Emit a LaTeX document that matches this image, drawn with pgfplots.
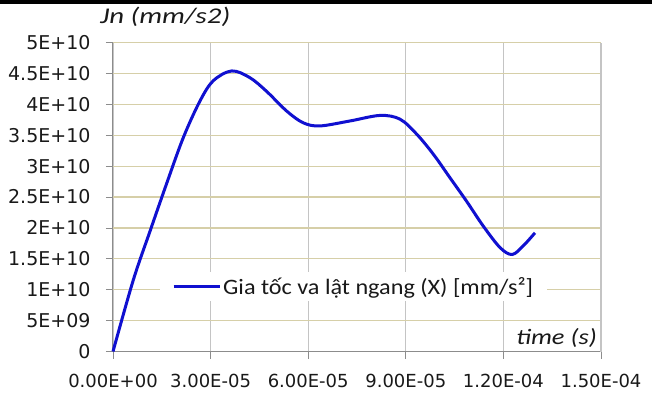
\documentclass[border=0pt]{standalone}
\usepackage{pgfplots}
\pgfplotsset{compat=1.18}
\usepackage{fontspec}
\setmainfont{Carlito}
\newfontfamily\tickfont{DejaVu Sans}
\newfontfamily\labfont[FakeStretch=1.2]{Carlito}
\newfontfamily\jnfont[FakeStretch=1.28]{Carlito}
\newfontfamily\legfont[FakeStretch=1.1]{Carlito}
\definecolor{hgrid}{HTML}{D6CFA8}
\definecolor{vgrid}{HTML}{C4C4C4}
\definecolor{axgray}{HTML}{8C8C8C}
\definecolor{curve}{HTML}{1010D0}
\begin{document}
\begin{tikzpicture}
\path[use as bounding box] (-113pt,-40.5pt) rectangle (539pt,351.5pt);
\fill[black] (-113pt,348pt) rectangle (539pt,351.5pt);
\begin{axis}[
  scale only axis,
  width=488pt, height=309pt,
  xmin=0, xmax=1.5e-4, ymin=0, ymax=5e10,
  scaled ticks=false,
  /pgf/number format/assume math mode=true,
  xtick={0,3e-5,6e-5,9e-5,1.2e-4,1.5e-4},
  xticklabels={0.00E+00,3.00E-05,6.00E-05,9.00E-05,1.20E-04,1.50E-04},
  ytick={0,5e9,1e10,1.5e10,2e10,2.5e10,3e10,3.5e10,4e10,4.5e10,5e10},
  yticklabels={0,5E+09,1E+10,1.5E+10,2E+10,2.5E+10,3E+10,3.5E+10,4E+10,4.5E+10,5E+10},
  tick label style={font=\tickfont\fontsize{19}{21}\selectfont, text=black!90},
  yticklabel style={xshift=-12pt},
  xticklabel style={yshift=-12pt, font=\tickfont\fontsize{18}{20}\selectfont},
  tick align=outside,
  major tick length=7pt,
  tick style={axgray, line width=0.8pt},
  axis line style={axgray, line width=1pt},
  axis x line*=bottom, axis y line*=left,
  ymajorgrids, xmajorgrids,
  y grid style={hgrid, line width=1.2pt},
  x grid style={vgrid, line width=1.2pt},
  legend style={at={(0.0963,0.21)}, anchor=west, draw=none, fill=white,
    font=\legfont\fontsize{22}{24}\selectfont, inner xsep=12pt, inner ysep=3pt,
    legend cell align=left, text=black!90},
  legend image code/.code={\draw[#1, line width=3pt] (0pt,0pt) -- (46pt,0pt);},
  clip=false,
]
\draw[vgrid, line width=1.2pt] (rel axis cs:1,0) -- (rel axis cs:1,1);
\draw[hgrid, line width=1.2pt] (rel axis cs:0,1) -- (rel axis cs:1,1);
\addplot[curve, line width=3pt, smooth, tension=0.55] coordinates {
(0,0)
(6.2e-6,1.15e10)
(1.14e-5,1.95e10)
(1.65e-5,2.72e10)
(2.16e-5,3.46e10)
(2.67e-5,4.05e10)
(3.08e-5,4.38e10)
(3.65e-5,4.54e10)
(4.21e-5,4.43e10)
(4.72e-5,4.21e10)
(5.34e-5,3.89e10)
(5.85e-5,3.70e10)
(6.36e-5,3.65e10)
(7.28e-5,3.73e10)
(8.21e-5,3.82e10)
(8.82e-5,3.76e10)
(9.33e-5,3.52e10)
(9.85e-5,3.19e10)
(1.036e-4,2.81e10)
(1.087e-4,2.43e10)
(1.138e-4,2.03e10)
(1.19e-4,1.68e10)
(1.227e-4,1.57e10)
(1.261e-4,1.71e10)
(1.297e-4,1.92e10)
};
\addlegendentry{Gia tốc va lật ngang (X) [mm/s²]}
\node[anchor=west, font=\jnfont\itshape\fontsize{22.5}{24}\selectfont, inner sep=0pt, text=black!90] at ([xshift=-13pt,yshift=25.5pt]rel axis cs:0,1) {Jn (mm/s2)};
\node[anchor=east, font=\labfont\itshape\fontsize{22}{24}\selectfont, fill=white, inner sep=1pt, text=black!90] at ([xshift=-3pt,yshift=14pt]rel axis cs:1,0) {time (s)};
\end{axis}
\end{tikzpicture}
\end{document}
